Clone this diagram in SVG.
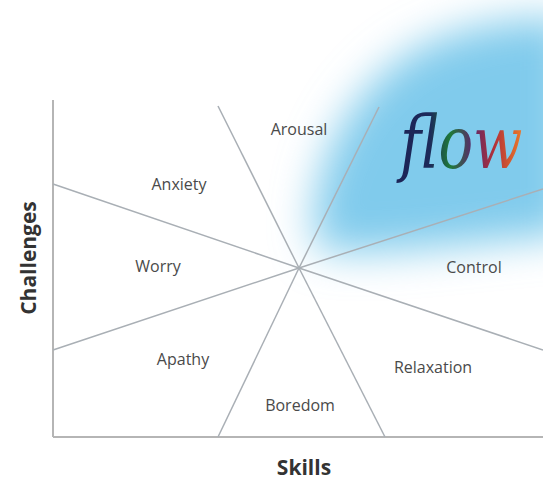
<svg xmlns="http://www.w3.org/2000/svg" width="543" height="480" viewBox="0 0 543 480">
<defs>
<filter id="blur" x="-50%" y="-50%" width="200%" height="200%"><feGaussianBlur stdDeviation="21"/></filter>
<linearGradient id="flowgrad" x1="0" y1="0" x2="150" y2="0" gradientUnits="userSpaceOnUse">
<stop offset="0" stop-color="#1c2456"/>
<stop offset="0.25" stop-color="#1c2a5a"/>
<stop offset="0.42" stop-color="#1f7a3a"/>
<stop offset="0.6" stop-color="#5a2a6a"/>
<stop offset="0.78" stop-color="#b0303a"/>
<stop offset="1" stop-color="#e8742a"/>
</linearGradient>
<style>
.ray{stroke:#a9afb5;stroke-width:1.5;fill:none}
.axis{stroke:#b5b5b5;stroke-width:2;fill:none}
.lbl{font-family:"Open Sans","Liberation Sans",sans-serif;font-size:16px;fill:#4a4a4a;text-anchor:middle}
.ttl{font-family:"Open Sans","Liberation Sans",sans-serif;font-size:21px;font-weight:bold;fill:#333;text-anchor:middle}
</style>
</defs>
<rect width="543" height="480" fill="#fff"/>
<g id="glow">
<path d="M318,250 C302,185 345,85 425,45 C475,22 525,18 570,18 L570,235 C480,240 385,258 318,250 Z" fill="#80cbec" filter="url(#blur)"/>
</g>
<g id="connectors">
<line class="axis" x1="53" y1="100" x2="53" y2="437"/>
<line class="axis" x1="53" y1="437" x2="543" y2="437"/>
<line class="ray" x1="299" y1="268" x2="53" y2="184"/>
<line class="ray" x1="299" y1="268" x2="218" y2="106"/>
<line class="ray" x1="299" y1="268" x2="379" y2="107"/>
<line class="ray" x1="299" y1="268" x2="543" y2="189"/>
<line class="ray" x1="299" y1="268" x2="543" y2="350"/>
<line class="ray" x1="299" y1="268" x2="53" y2="350"/>
<line class="ray" x1="299" y1="268" x2="218" y2="437"/>
<line class="ray" x1="299" y1="268" x2="385" y2="437"/>
</g>
<g id="arousal"><text class="lbl" x="299" y="135">Arousal</text></g>
<g id="anxiety"><text class="lbl" x="179" y="190">Anxiety</text></g>
<g id="worry"><text class="lbl" x="158" y="272">Worry</text></g>
<g id="control"><text class="lbl" x="474" y="273">Control</text></g>
<g id="apathy"><text class="lbl" x="183" y="365">Apathy</text></g>
<g id="relaxation"><text class="lbl" x="433" y="373">Relaxation</text></g>
<g id="boredom"><text class="lbl" x="300" y="411">Boredom</text></g>
<g id="skills"><text class="ttl" x="304" y="475">Skills</text></g>
<g id="challenges"><text class="ttl" transform="translate(36,258) rotate(-90)" x="0" y="0">Challenges</text></g>
<g id="flow"><text transform="translate(400,168) scale(0.8,1)" x="0" y="0" font-family="'DejaVu Serif','Liberation Serif',serif" font-style="italic" font-size="72" fill="url(#flowgrad)">flow</text></g>
</svg>
